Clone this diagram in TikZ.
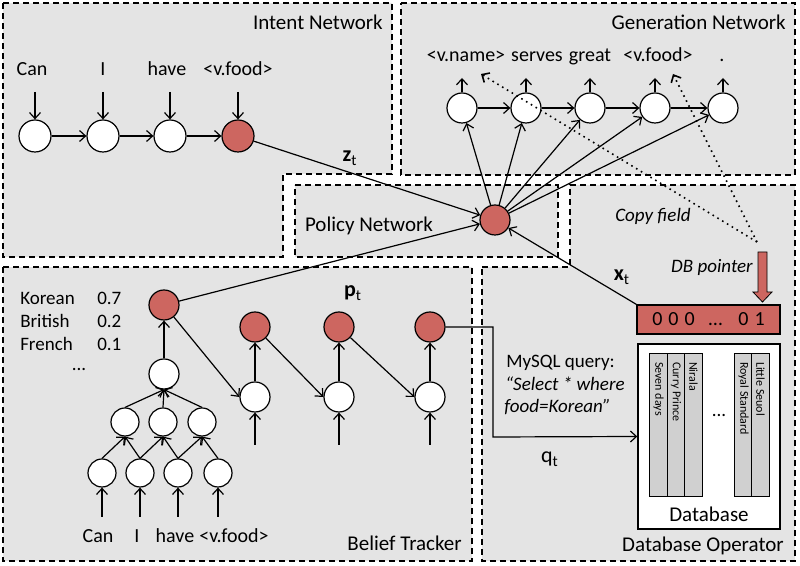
\documentclass[tikz,border=0pt]{standalone}
\usepackage{fontspec}
\setmainfont{Carlito}
\usetikzlibrary{arrows.meta}
\definecolor{cellred}{RGB}{205,102,96}
\definecolor{panelgray}{RGB}{228,228,228}
\definecolor{colgray}{RGB}{208,208,208}

\begin{document}
\begin{tikzpicture}[x=0.5pt, y=-0.5pt, line width=0.6pt,
	>={Straight Barb[length=3pt,width=5.5pt]},
	every node/.style={font=\fontsize{9.5}{11}\selectfont},
	panel/.style={draw, fill=panelgray, dash pattern=on 3pt off 2pt, line width=0.7pt},
	title/.style={font=\fontsize{10.5}{12}\selectfont, anchor=base east},
	word/.style={anchor=base, font=\fontsize{10}{12}\selectfont},
	unit/.style={circle, draw, fill=white, minimum size=15pt, inner sep=0pt},
	leaf/.style={unit, minimum size=14pt},
	hot/.style={fill=cellred},
	vlabel/.style={font=\fontsize{11}{12}\selectfont, anchor=base},
	column/.style={draw, fill=colgray, line width=0.4pt, minimum width=8.75pt, minimum height=71.5pt, inner sep=0pt},
	dbname/.style={rotate=-90, anchor=west, font=\fontsize{6}{7}\selectfont, inner sep=0pt}]

\useasboundingbox (0,0) rectangle (800,566);

% panels
\draw[panel] (3,3) -- (392,3) -- (392,174) -- (283,174) -- (283,257) -- (3,257) -- cycle;
\draw[panel] (401,3) -- (795,3) -- (795,175) -- (401,175) -- cycle;
\draw[panel] (295,185) -- (558,185) -- (558,257) -- (295,257) -- cycle;
\draw[panel] (3,267) -- (472,267) -- (472,561) -- (3,561) -- cycle;
\draw[panel] (482,267) -- (570,267) -- (570,185) -- (795,185) -- (795,561) -- (482,561) -- cycle;

% intent network
\node[title] (tint) at (390,30) {Intent Network};
\coordinate (itop) at (0,92);
\node[word] (iw1) at (32,76) {Can};
\node[word] (iw2) at (103,76) {I};
\node[word] (iw3) at (167,76) {have};
\node[word] (iw4) at (238,76) {<v.food>};
\node[unit, minimum size=16pt] (i1) at (35,136) {};
\node[unit, minimum size=16pt] (i2) at (103,136) {};
\node[unit, minimum size=16pt] (i3) at (170,136) {};
\node[unit, hot, minimum size=16pt] (i4) at (238,136) {};
\foreach \k in {1,...,4} \draw[->] (i\k |- itop) -- (i\k);
\foreach \a/\b in {1/2,2/3,3/4} \draw[->] (i\a) -- (i\b);

% policy network
\node[title, anchor=base] (tpol) at (369,232) {Policy Network};
\node[unit, hot] (p) at (495,220) {};
\draw[->] (i4) -- (p);
\node[vlabel] (zt) at (350,162) {\textbf{z}\textsubscript{t}};

% generation network
\node[title] (tgen) at (793,30) {Generation Network};
\coordinate (gtop) at (0,78);
\node[word] (gw1) at (466,62) {<v.name>};
\node[word] (gw2) at (537,62) {serves};
\node[word] (gw3) at (590,62) {great};
\node[word] (gw4) at (658,62) {<v.food>};
\node[word] (gw5) at (722,62) {.};
\foreach \k/\x in {1/462,2/526,3/590,4/655,5/723} \node[unit] (g\k) at (\x,108) {};
\foreach \k in {1,...,5} {
	\draw[->] (g\k) -- (g\k |- gtop);
	\draw[->] (p) -- (g\k);
}
\foreach \a/\b in {1/2,2/3,3/4,4/5} \draw[->] (g\a) -- (g\b);

% copy field and db pointer
\coordinate (cf) at (757,242);
\coordinate (cname) at (481,74);
\coordinate (cfood) at (673,74);
\draw[->, dotted, line width=0.8pt] (cf) -- (cname);
\draw[->, dotted, line width=0.8pt] (cf) -- (cfood);
\node[anchor=base] (tcopy) at (653,222) {\itshape Copy field};
\node[anchor=base] (tptr) at (712,273) {\itshape DB pointer};
\filldraw[fill=cellred, line width=0.4pt] (758,252) -- (767,252) -- (767,292) -- (772,292) -- (762.5,302) -- (753,292) -- (758,292) -- cycle;
\node[draw, fill=cellred, minimum width=71.5pt, minimum height=14.5pt, inner sep=0pt, font=\fontsize{10}{12}\selectfont] (vec) at (708.5,319.5) {0\hspace{3pt}0\hspace{3pt}0\hspace{7pt}…\hspace{8pt}0\hspace{3pt}1};
\draw[->] (vec.north west) -- (p);
\node[vlabel] (xt) at (622,281) {\textbf{x}\textsubscript{t}};

% belief tracker
\node[title] (tbel) at (469,551) {Belief Tracker};
\node[anchor=base west] (k1) at (13,305) {Korean};
\node[anchor=base west] (k2) at (13,328) {British};
\node[anchor=base west] (k3) at (13,351) {French};
\node[anchor=base west] (v1) at (90,305) {0.7};
\node[anchor=base west] (v2) at (90,328) {0.2};
\node[anchor=base west] (v3) at (90,351) {0.1};
\node (kdots) at (79,370) {...};
\coordinate (btail) at (0,517);
\node[word] (bw1) at (98,543) {Can};
\node[word] (bw2) at (137,543) {I};
\node[word] (bw3) at (175,543) {have};
\node[word] (bw4) at (234,543) {<v.food>};
\node[leaf] (bb1) at (102,473) {};
\node[leaf] (bb2) at (140,473) {};
\node[leaf] (bb3) at (178,473) {};
\node[leaf] (bb4) at (218,473) {};
\node[leaf] (bl1) at (125,422) {};
\node[leaf] (bl2) at (163,422) {};
\node[leaf] (bl3) at (202,422) {};
\node[unit] (bm) at (164,374) {};
\node[unit, hot] (bt) at (164,305) {};
\foreach \k in {1,...,4} \draw[->] (bb\k |- btail) -- (bb\k);
\foreach \a/\b in {1/1,2/1,2/2,3/2,3/3,4/3} \draw[->] (bb\a.north) -- (bl\b.south);
\foreach \k in {1,2,3} \draw[->] (bl\k.north) -- (bm.south);
\draw[->] (bm) -- (bt);
\coordinate (wtail) at (0,445);
\foreach \k/\x in {2/255,3/339,4/430} {
	\node[unit] (w\k) at (\x,397) {};
	\node[unit, hot] (b\k) at (\x,327) {};
	\draw[->] (w\k |- wtail) -- (w\k);
	\draw[->] (w\k) -- (b\k);
}
\draw[->] (bt) -- (w2.west);
\draw[->] (b2) -- (w3.west);
\draw[->] (b3) -- (w4.west);
\draw[->] (bt) -- (p);
\node[vlabel] (pt) at (353,297) {\textbf{p}\textsubscript{t}};

% database operator
\node[title] (tdbo) at (791,552) {Database Operator};
\node[anchor=base west] (q1) at (499,368) {MySQL query:};
\node[anchor=base west] (q2) at (498,391) {\itshape “Select * where};
\node[anchor=base west] (q3) at (497,413) {\itshape food=Korean”};
\node[draw, fill=white, minimum width=71pt, minimum height=92.5pt, line width=0.7pt] (db) at (709,436.5) {};
\foreach \k/\x/\t in {1/658.5/Seven days,2/676/Curry Prince,3/693.5/Nirala,4/743.5/Royal Standard,5/760.5/Little Seuol} {
	\node[column] (c\k) at (\x,424.5) {};
	\node[dbname] (n\k) at ([yshift=-4.5pt]c\k.north) {\t};
}
\node (cdots) at (719,416) {...};
\node[font=\fontsize{10.5}{12}\selectfont, anchor=base] (tdb) at (709,522) {Database};
\coordinate (qc) at (493,437);
\draw[->] (b4) -| (qc) -- (db.west);
\node[vlabel] (qt) at (550,463) {q\textsubscript{t}};
\end{tikzpicture}
\end{document}
